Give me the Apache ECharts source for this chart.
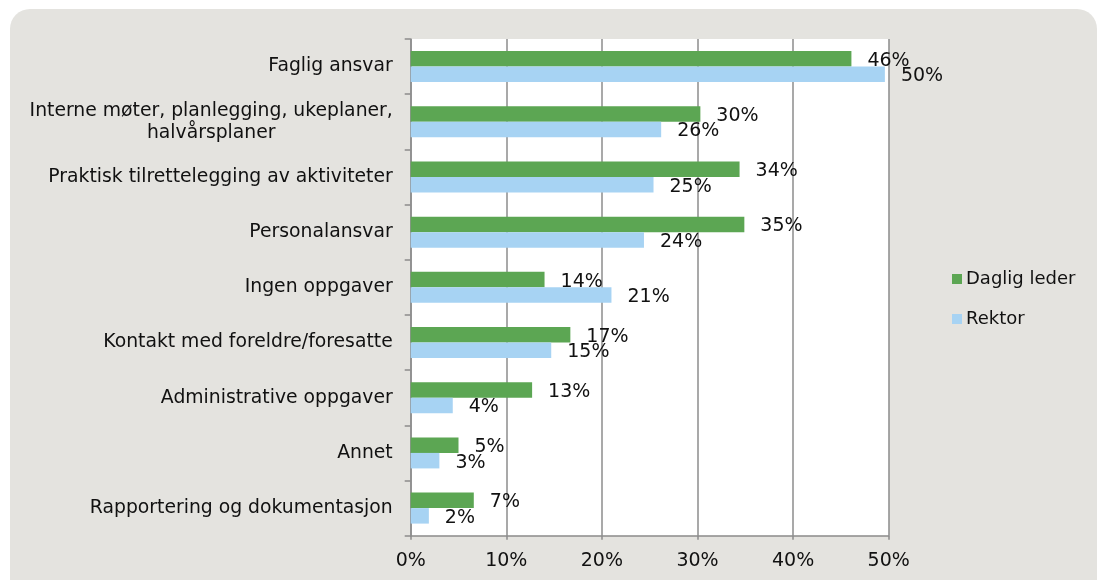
<!DOCTYPE html>
<html>
<head>
<meta charset="utf-8">
<script src="https://cdn.jsdelivr.net/npm/echarts@6/dist/echarts.min.js"></script>
<style>
html,body{margin:0;padding:0;background:#fff;}
#c{width:1097px;height:580px;}
</style>
</head>
<body>
<div id="c"></div>
<script>
const categories = [
  'Faglig ansvar',
  'Interne møter, planlegging, ukeplaner,\nhalvårsplaner',
  'Praktisk tilrettelegging av aktiviteter',
  'Personalansvar',
  'Ingen oppgaver',
  'Kontakt med foreldre/foresatte',
  'Administrative oppgaver',
  'Annet',
  'Rapportering og dokumentasjon'
];
const seriesNames = ['Daglig leder', 'Rektor'];
const dagligLeder = [46.1, 30.3, 34.4, 34.9, 14.0, 16.7, 12.7, 5.0, 6.6];
const rektor = [49.6, 26.2, 25.4, 24.4, 21.0, 14.7, 4.4, 3.0, 1.9];
const xTicks = [0, 10, 20, 30, 40, 50];

const FONT = 'DejaVu Sans';
const FS = 18.8;
const chart = echarts.init(document.getElementById('c'));

const labelCfg = {
  show: true,
  position: 'right',
  distance: 16,
  offset: [0, 2],
  color: '#111',
  fontFamily: FONT,
  fontSize: 19,
  formatter: p => Math.round(p.value) + '%'
};

chart.setOption({
  animation: false,
  backgroundColor: '#ffffff',
  graphic: [{
    type: 'rect',
    z: -10,
    silent: true,
    shape: { x: 10, y: 9, width: 1087, height: 620, r: 20 },
    style: { fill: '#e4e3df' }
  }, {
    type: 'rect',
    z: -9,
    silent: true,
    shape: { x: 410.7, y: 39, width: 478, height: 496.7 },
    style: { fill: '#ffffff' }
  }],
  grid: { left: 410.7, right: 208.3, top: 39, bottom: 44.3, containLabel: false },
  legend: {
    orient: 'vertical',
    left: 947,
    top: 265,
    itemWidth: 10,
    itemHeight: 10,
    itemGap: 22,
    icon: 'rect',
    textStyle: { fontFamily: FONT, fontSize: 18, color: '#111', padding: [0, 0, 0, -1] },
    data: seriesNames
  },
  xAxis: {
    type: 'value',
    min: xTicks[0],
    max: xTicks[xTicks.length - 1],
    interval: 10,
    axisLine: { show: true, lineStyle: { color: '#8c8c8c', width: 1.5 } },
    axisTick: { show: true, length: 4, lineStyle: { color: '#8c8c8c', width: 1.5 } },
    splitLine: { show: true, lineStyle: { color: '#8c8c8c', width: 1.5 } },
    axisLabel: {
      margin: 16,
      fontFamily: FONT,
      fontSize: 19,
      color: '#111',
      formatter: v => v + '%'
    }
  },
  yAxis: {
    type: 'category',
    inverse: true,
    data: categories,
    axisLine: { show: true, lineStyle: { color: '#8c8c8c', width: 1.5 } },
    axisTick: { show: true, length: 6, lineStyle: { color: '#8c8c8c', width: 1.5 } },
    axisLabel: {
      margin: 18,
      fontFamily: FONT,
      fontSize: FS,
      color: '#111',
      lineHeight: 22,
      formatter: v => {
        if (v.indexOf('\n') >= 0) {
          return v.split('\n').map(s => '{c|' + s + '}').join('\n');
        }
        return v;
      },
      rich: {
        c: { width: 363, align: 'center', fontFamily: FONT, fontSize: FS, color: '#111', lineHeight: 22 }
      }
    }
  },
  series: [{
    name: seriesNames[0],
    type: 'bar',
    data: dagligLeder,
    barWidth: 15.5,
    barGap: '0%',
    itemStyle: { color: '#5ca653' },
    label: labelCfg
  }, {
    name: seriesNames[1],
    type: 'bar',
    data: rektor,
    barWidth: 15.5,
    barGap: '0%',
    itemStyle: { color: '#a7d3f3' },
    label: labelCfg
  }]
});
</script>
</body>
</html>
